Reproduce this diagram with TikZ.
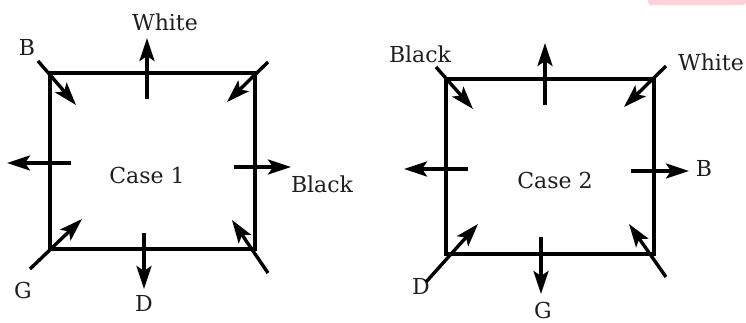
\documentclass[tikz,border=0pt]{standalone}
\usepackage{fontspec}
\setmainfont{DejaVu Serif}
\usetikzlibrary{arrows.meta}
\definecolor{inkgray}{RGB}{30,30,30}
\definecolor{tagpink}{RGB}{255,208,215}
\tikzset{
  box/.style={line width=3.6pt, draw=black},
  flux/.style={line width=3.4pt, -{Stealth[length=23pt,width=15pt,inset=5pt]}},
  lbl/.style={font=\fontsize{22}{24}\selectfont, text=inkgray, inner sep=0pt},
}
\begin{document}
\begin{tikzpicture}[x=1pt,y=-1pt]
\useasboundingbox (0,0) rectangle (746,322);
\fill[tagpink, rounded corners=3pt] (648,-6) rectangle (746,5);
% ---------- Case 1 ----------
\draw[box] (50,73) rectangle (255,249);
\node[lbl] (c1) at (147,175) {Case 1};
\node[lbl] (c1w) at (165,22) {White};
\node[lbl] (c1b) at (27,47) {B};
\node[lbl] (c1k) at (322,184) {Black};
\node[lbl] (c1g) at (23,290) {G};
\node[lbl] (c1d) at (144,303) {D};
\coordinate (a1s) at (38,61);  \coordinate (a1e) at (76,105);
\coordinate (a2s) at (268,62); \coordinate (a2e) at (227,102);
\coordinate (a3s) at (30,269); \coordinate (a3e) at (82,219);
\coordinate (a4s) at (268,273);\coordinate (a4e) at (232,220);
\coordinate (a5s) at (147,99); \coordinate (a5e) at (147,38);
\coordinate (a6s) at (71,163); \coordinate (a6e) at (7,163);
\coordinate (a7s) at (234,167);\coordinate (a7e) at (291,167);
\coordinate (a8s) at (144,233);\coordinate (a8e) at (144,289);
\foreach \i in {1,...,8} \draw[flux] (a\i s) -- (a\i e);
% ---------- Case 2 ----------
\draw[box] (446,79) rectangle (654,254);
\node[lbl] (c2) at (555,180) {Case 2};
\node[lbl] (c2k) at (420,54) {Black};
\node[lbl] (c2w) at (711,62) {White};
\node[lbl] (c2b) at (704,168) {B};
\node[lbl] (c2d) at (421,286) {D};
\node[lbl] (c2g) at (543,310) {G};
\coordinate (b1s) at (436,67);  \coordinate (b1e) at (473,109);
\coordinate (b2s) at (666,66);  \coordinate (b2e) at (624,107);
\coordinate (b3s) at (426,282); \coordinate (b3e) at (478,224);
\coordinate (b4s) at (666,277); \coordinate (b4e) at (629,224);
\coordinate (b5s) at (545,105); \coordinate (b5e) at (545,43);
\coordinate (b6s) at (468,169); \coordinate (b6e) at (404,169);
\coordinate (b7s) at (631,171); \coordinate (b7e) at (689,171);
\coordinate (b8s) at (541,237); \coordinate (b8e) at (541,294);
\foreach \i in {1,...,8} \draw[flux] (b\i s) -- (b\i e);
\end{tikzpicture}
\end{document}
